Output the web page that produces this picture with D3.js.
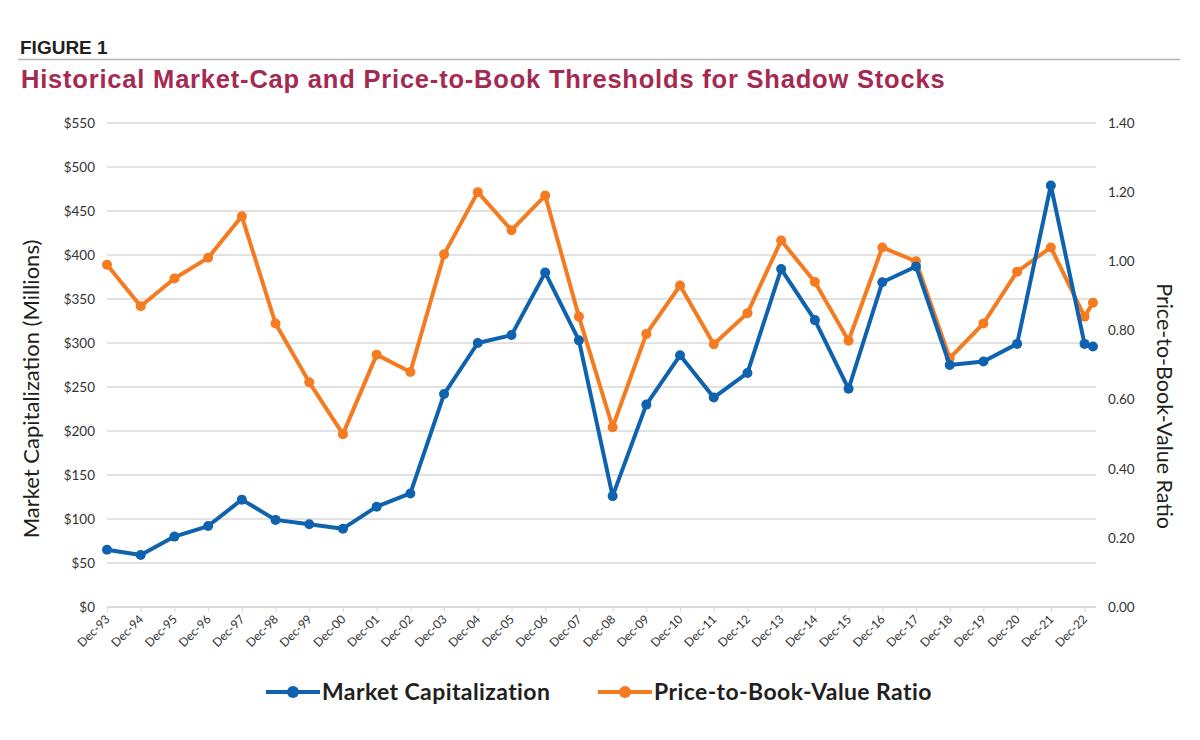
<!DOCTYPE html>
<html>
<head>
<meta charset="utf-8">
<script src="https://cdn.jsdelivr.net/npm/d3@7"></script>
<style>
  body { margin: 0; background: #fff; }
  text { font-family: Lato, "Open Sans", sans-serif; }
</style>
</head>
<body>
<svg id="chart" width="1200" height="740"></svg>
<script>
// tick labels on the x axis (one per December)
const years = ["93","94","95","96","97","98","99","00","01","02","03","04","05","06","07","08",
               "09","10","11","12","13","14","15","16","17","18","19","20","21","22"];
const xLabels = years.map(y => "Dec-" + y);

// position in years from Dec-93; last point is a partial year (Mar-23)
const periods = [0,1,2,3,4,5,6,7,8,9,10,11,12,13,14,15,16,17,18,19,20,21,22,23,24,25,26,27,28,29,29.25];

// market cap threshold ($ millions)
const marketCap = [65, 59, 80, 92, 122, 99, 94, 89, 114, 129, 242, 300, 309, 380, 303, 126,
                   230, 286, 238, 266, 384, 326, 248, 369, 387, 275, 279, 299, 479, 299, 296];

// price-to-book ratio threshold
const priceToBook = [0.99, 0.87, 0.95, 1.01, 1.13, 0.82, 0.65, 0.50, 0.73, 0.68, 1.02, 1.20, 1.09, 1.19, 0.84, 0.52,
                     0.79, 0.93, 0.76, 0.85, 1.06, 0.94, 0.77, 1.04, 1.00, 0.72, 0.82, 0.97, 1.04, 0.84, 0.88];

const leftTicks = [0, 50, 100, 150, 200, 250, 300, 350, 400, 450, 500, 550];
const rightTicks = [0, 0.2, 0.4, 0.6, 0.8, 1.0, 1.2, 1.4];

const blue = "#0f62ae";
const orange = "#f47b20";

const svg = d3.select("#chart");
const plot = { left: 107, right: 1096, top: 123, bottom: 607 };

// header
svg.append("text")
    .attr("x", 20).attr("y", 54)
    .style("font-family", "'Liberation Sans', Arial, sans-serif")
    .style("font-weight", "bold").style("font-size", "19px")
    .attr("fill", "#231f20")
    .text("FIGURE 1");

svg.append("line")
    .attr("x1", 18).attr("x2", 1180).attr("y1", 59.5).attr("y2", 59.5)
    .attr("stroke", "#b3b3b3").attr("stroke-width", 1.5);

svg.append("text")
    .attr("x", 21).attr("y", 87.5)
    .style("font-family", "'Liberation Sans', Arial, sans-serif")
    .style("font-weight", "bold").style("font-size", "25.5px")
    .style("letter-spacing", "0.8px")
    .attr("fill", "#a52a52")
    .text("Historical Market-Cap and Price-to-Book Thresholds for Shadow Stocks");

// scales
const x = d3.scaleLinear().domain([0, 29.34]).range([plot.left, plot.right]);
const yLeft = d3.scaleLinear().domain([0, 550]).range([plot.bottom, plot.top]);
const yRight = d3.scaleLinear().domain([0, 1.4]).range([plot.bottom, plot.top]);

// gridlines
svg.append("g")
    .selectAll("line")
    .data(leftTicks)
    .join("line")
    .attr("x1", plot.left).attr("x2", plot.right)
    .attr("y1", d => yLeft(d)).attr("y2", d => yLeft(d))
    .attr("stroke", "#d9d9d9").attr("stroke-width", 1.3);

// left axis
const yAxisLeft = d3.axisLeft(yLeft).tickValues(leftTicks).tickSize(0).tickPadding(12)
    .tickFormat(d => "$" + d);
const gl = svg.append("g").attr("transform", `translate(${plot.left},0)`).call(yAxisLeft);
gl.select(".domain").remove();
gl.selectAll("text").style("font-size", "13.5px").attr("fill", "#333");

// right axis
const yAxisRight = d3.axisRight(yRight).tickValues(rightTicks).tickSize(0).tickPadding(12)
    .tickFormat(d3.format(".2f"));
const gr = svg.append("g").attr("transform", `translate(${plot.right},0)`).call(yAxisRight);
gr.select(".domain").remove();
gr.selectAll("text").style("font-size", "13.5px").attr("fill", "#333");

// x axis
const xAxis = d3.axisBottom(x).tickValues(d3.range(xLabels.length)).tickSize(5)
    .tickFormat((d, i) => xLabels[i]);
const gx = svg.append("g").attr("transform", `translate(0,${plot.bottom})`).call(xAxis);
gx.select(".domain").attr("stroke", "#d9d9d9").attr("stroke-width", 1.3)
    .attr("d", `M${plot.left},0H${plot.right}`);
gx.selectAll(".tick line").attr("stroke", "#d9d9d9");
gx.selectAll("text")
    .style("font-size", "12px").attr("fill", "#333")
    .attr("text-anchor", "end")
    .attr("dy", "0.35em")
    .attr("transform", "translate(0,10) rotate(-45)")
    .attr("x", 0).attr("y", 0);

// axis titles
svg.append("text")
    .attr("transform", `translate(39,389) rotate(-90)`)
    .attr("text-anchor", "middle")
    .style("font-size", "22px").attr("fill", "#231f20")
    .text("Market Capitalization (Millions)");

svg.append("text")
    .attr("transform", `translate(1157,406) rotate(90)`)
    .attr("text-anchor", "middle")
    .style("font-size", "21.5px").attr("fill", "#231f20")
    .text("Price-to-Book-Value Ratio");

// series
function drawSeries(values, yScale, color) {
    const pts = values.map((v, i) => [periods[i], v]);
    const line = d3.line().x(d => x(d[0])).y(d => yScale(d[1]));
    svg.append("path")
        .datum(pts)
        .attr("d", line)
        .attr("fill", "none")
        .attr("stroke", color)
        .attr("stroke-width", 4)
        .attr("stroke-linejoin", "round");
    svg.append("g")
        .selectAll("circle")
        .data(pts)
        .join("circle")
        .attr("cx", d => x(d[0]))
        .attr("cy", d => yScale(d[1]))
        .attr("r", 5)
        .attr("fill", color);
}

drawSeries(priceToBook, yRight, orange);
drawSeries(marketCap, yLeft, blue);

// legend
const legend = [
    { name: "Market Capitalization", color: blue, x: 266 },
    { name: "Price-to-Book-Value Ratio", color: orange, x: 598 }
];
const lg = svg.append("g").selectAll("g").data(legend).join("g")
    .attr("transform", d => `translate(${d.x},692)`);
lg.append("line")
    .attr("x1", 0).attr("x2", 54)
    .attr("stroke", d => d.color).attr("stroke-width", 4);
lg.append("circle")
    .attr("cx", 27).attr("r", 6)
    .attr("fill", d => d.color);
lg.append("text")
    .attr("x", 56).attr("dy", "0.35em")
    .style("font-size", "23px").style("font-weight", "bold")
    .style("letter-spacing", "0.4px")
    .attr("fill", "#231f20")
    .text(d => d.name);
</script>
</body>
</html>
